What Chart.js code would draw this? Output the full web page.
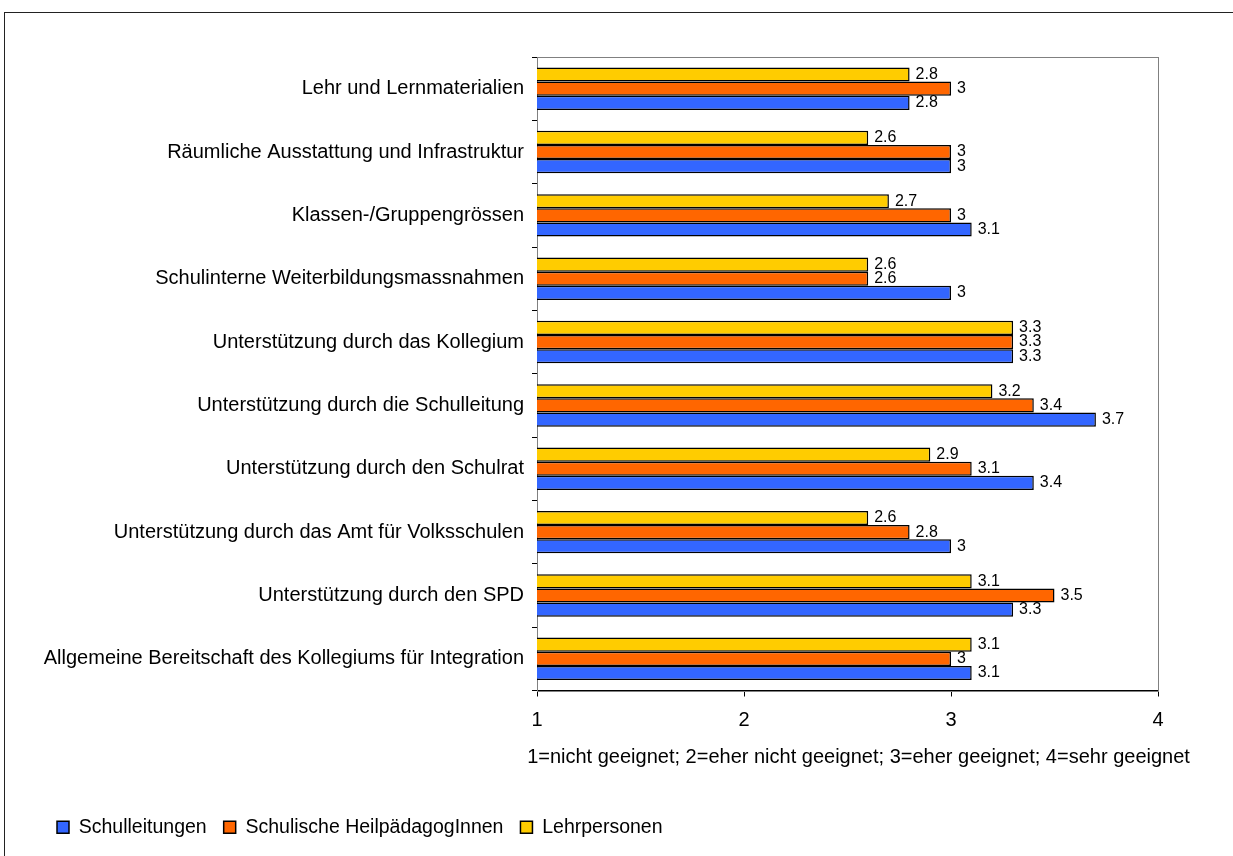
<!DOCTYPE html>
<html>
<head>
<meta charset="utf-8">
<script src="https://cdn.jsdelivr.net/npm/chart.js@4/dist/chart.umd.min.js"></script>
<style>
    body { margin: 0; background: #fff; overflow: hidden; }
    #frame { position: absolute; left: 4px; top: 12px; width: 1240px; height: 850px;
             border-left: 1px solid #222; border-top: 1px solid #222; }
    #wrap { position: absolute; left: 0; top: 0; width: 1228px; height: 843px; }
</style>
</head>
<body>
<div id="frame"><div id="wrap"><canvas id="chart"></canvas></div></div>
<script>
var categories = [
    "Lehr und Lernmaterialien",
    "Räumliche Ausstattung und Infrastruktur",
    "Klassen-/Gruppengrössen",
    "Schulinterne Weiterbildungsmassnahmen",
    "Unterstützung durch das Kollegium",
    "Unterstützung durch die Schulleitung",
    "Unterstützung durch den Schulrat",
    "Unterstützung durch das Amt für Volksschulen",
    "Unterstützung durch den SPD",
    "Allgemeine Bereitschaft des Kollegiums für Integration"
];
var lehrpersonen = [2.8, 2.6, 2.7, 2.6, 3.3, 3.2, 2.9, 2.6, 3.1, 3.1];
var heilpaedagogen = [3, 3, 3, 2.6, 3.3, 3.4, 3.1, 2.8, 3.5, 3];
var schulleitungen = [2.8, 3, 3.1, 3, 3.3, 3.7, 3.4, 3, 3.3, 3.1];
var xTicks = [1, 2, 3, 4];
var axisTitle = "1=nicht geeignet; 2=eher nicht geeignet; 3=eher geeignet; 4=sehr geeignet";

var font = "'Liberation Sans', Arial, sans-serif";

// grey frame around the plot area (top/right)
var plotFrame = {
    id: 'plotFrame',
    beforeDatasetsDraw: function(chart) {
        var a = chart.chartArea, ctx = chart.ctx;
        ctx.save();
        ctx.strokeStyle = '#808080';
        ctx.lineWidth = 1;
        ctx.strokeRect(Math.round(a.left) + 0.5, Math.round(a.top) + 0.5,
            Math.round(a.right - a.left), Math.round(a.bottom - a.top));
        ctx.restore();
    }
};

// values next to the bars + x axis title (drawn by hand so it is not squeezed)
var valueLabels = {
    id: 'valueLabels',
    afterDatasetsDraw: function(chart) {
        var ctx = chart.ctx;
        ctx.save();
        ctx.font = '16px ' + font;
        ctx.fillStyle = '#000';
        ctx.textAlign = 'left';
        ctx.textBaseline = 'middle';
        chart.data.datasets.forEach(function(ds, i) {
            chart.getDatasetMeta(i).data.forEach(function(bar, j) {
                ctx.fillText(String(ds.data[j]), bar.x + 6, bar.y);
            });
        });
        var xs = chart.scales.x;
        ctx.font = '20px ' + font;
        ctx.textAlign = 'center';
        ctx.fillText(axisTitle, (xs.left + xs.right) / 2 + 11, xs.top + 67);
        ctx.restore();
    }
};

new Chart(document.getElementById("chart"), {
    type: 'bar',
    data: {
        labels: categories,
        datasets: [{
            label: "Lehrpersonen",
            data: lehrpersonen,
            backgroundColor: '#FFCC00'
        }, {
            label: "Schulische HeilpädagogInnen",
            data: heilpaedagogen,
            backgroundColor: '#FF6600'
        }, {
            label: "Schulleitungen",
            data: schulleitungen,
            backgroundColor: '#3366FF'
        }]
    },
    options: {
        indexAxis: 'y',
        responsive: true,
        maintainAspectRatio: false,
        animation: false,
        datasets: {
            bar: {
                borderColor: '#000',
                borderWidth: 1.5,
                borderSkipped: false,
                barPercentage: 1,
                categoryPercentage: 0.67
            }
        },
        layout: {
            padding: { left: 35, top: 44, right: 75, bottom: 9 }
        },
        plugins: {
            legend: {
                position: 'bottom',
                align: 'start',
                reverse: true,
                labels: {
                    color: '#000',
                    font: { family: font, size: 19.5 },
                    boxWidth: 12,
                    boxHeight: 12,
                    padding: 17,
                    generateLabels: function(chart) {
                        var items = Chart.defaults.plugins.legend.labels.generateLabels(chart);
                        items.forEach(function(it) { it.lineWidth = 1.5; it.strokeStyle = '#000'; });
                        return items;
                    }
                }
            },
            tooltip: { enabled: false }
        },
        scales: {
            x: {
                min: 1,
                max: 4,
                afterBuildTicks: function(scale) {
                    scale.ticks = xTicks.map(function(v) { return { value: v }; });
                },
                afterFit: function(scale) { scale.height = 110; },
                border: { display: true, color: '#000', width: 1 },
                grid: { drawOnChartArea: false, tickLength: 6, color: '#000' },
                ticks: { color: '#000', padding: 12, font: { family: font, size: 20 } }
            },
            y: {
                afterFit: function(scale) { scale.width = 497; },
                border: { display: true, color: '#000', width: 1 },
                grid: { drawOnChartArea: false, offset: true, tickLength: 5, color: '#000' },
                ticks: { color: '#000', padding: 8, font: { family: font, size: 20 } }
            }
        }
    },
    plugins: [plotFrame, valueLabels]
});
</script>
</body>
</html>
